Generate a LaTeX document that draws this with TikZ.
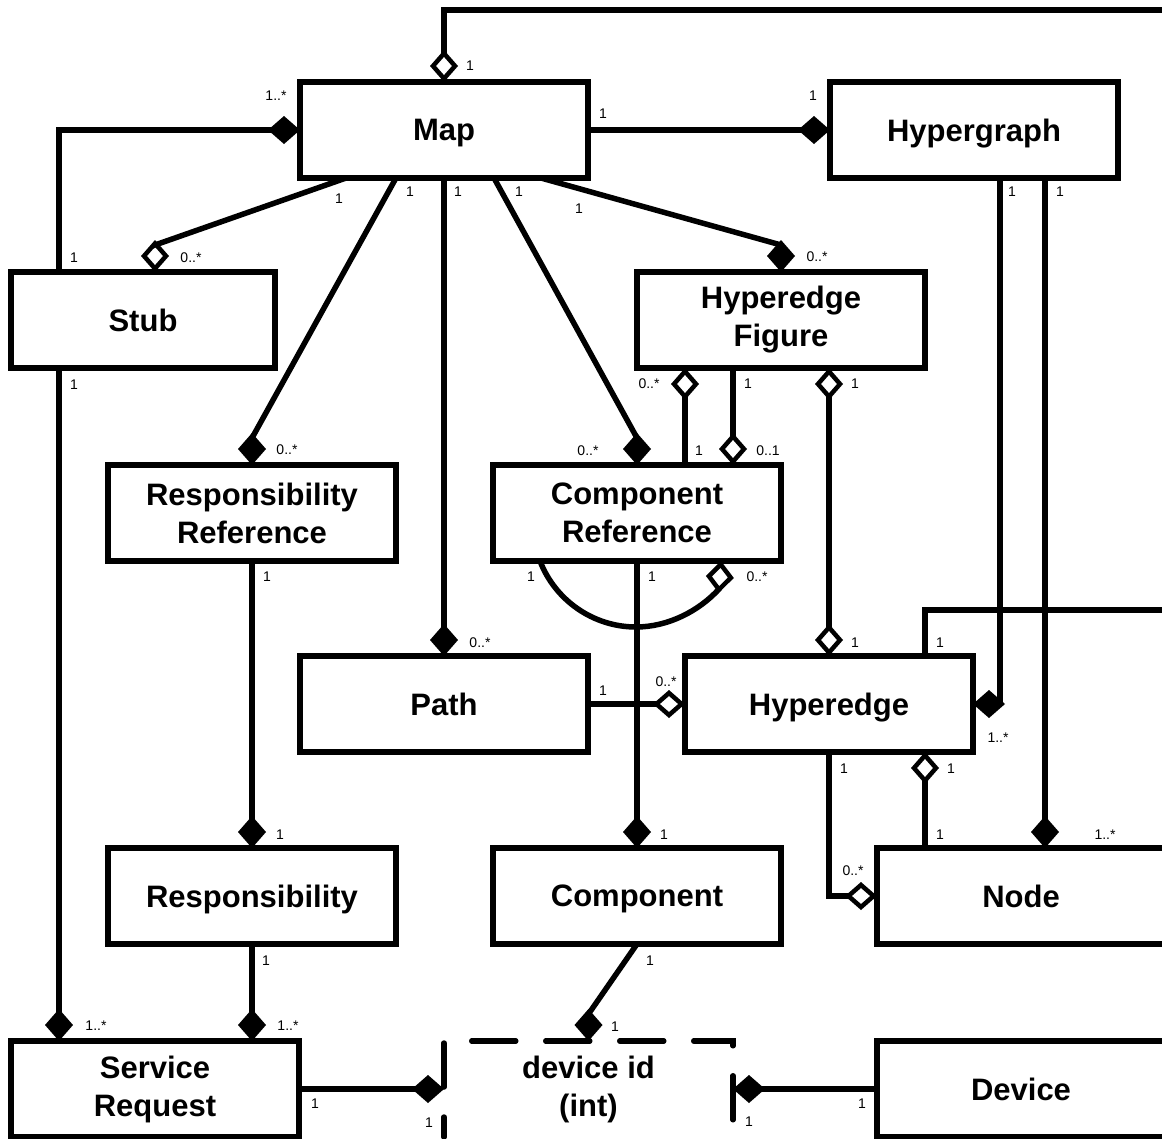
\documentclass[tikz,border=0pt]{standalone}
\usepackage{fontspec}
\setmainfont{Liberation Sans}
\usetikzlibrary{arrows.meta,calc}
\begin{document}
\begin{tikzpicture}[x=1pt,y=-1pt,
  line width=5.5pt,
  cls/.style={draw, line width=5.5pt, minimum width=288pt, minimum height=96pt,
    outer sep=0pt, inner sep=0pt, align=center,
    font=\bfseries\fontsize{31}{38}\selectfont},
  one/.style={cls, text depth=0pt},
  lab/.style={inner sep=0pt, font=\fontsize{14}{16}\selectfont},
  comp/.style={-{Diamond[length=32pt,width=28pt]}},
  aggr/.style={-{Diamond[open,length=32pt,width=28pt,line width=4.5pt]}},
  aggrboth/.style={{Diamond[open,length=32pt,width=28pt,line width=4.5pt]}-{Diamond[open,length=32pt,width=28pt,line width=4.5pt]}},
]
\useasboundingbox (0,0) rectangle (1162,1138);

% classes
\node (map)   [one] at (444,130) {Map};
\node (hg)    [one] at (974,130) {Hypergraph};
\node (stub)  [one, minimum width=264pt] at (143,320) {Stub};
\node (hf)    [cls] at (781,320) {Hyperedge\\Figure};
\node (rr)    [cls] at (252,513) {Responsibility\\Reference};
\node (cr)    [cls] at (637,513) {Component\\Reference};
\node (path)  [one] at (444,704) {Path};
\node (he)    [one] at (829,704) {Hyperedge};
\node (resp)  [one] at (252,896) {Responsibility};
\node (comp)  [one] at (637,896) {Component};
\node (node)  [one] at (1021,896) {Node};
\node (sr)    [cls] at (155,1089) {Service\\Request};
\node (dev)   [cls, draw=none, minimum width=289pt] at (588.5,1089) {device id\\(int)};
\node (device)[one] at (1021,1089) {Device};

% dashed outline of the device id type
\draw[line cap=round, dash pattern=on 44pt off 30pt, dash phase=46.25pt]
  (dev.north west) -- (dev.north east) -- (dev.south east);
\draw[line cap=round, dash pattern=on 44pt off 30pt, dash phase=72pt]
  (dev.north west) -- (dev.south west);

% free ends leaving the drawing on the right
\coordinate (topR) at (1175,10);
\coordinate (midR) at (1175,610);

% associations (diamonds stand upright on the box they touch)
\draw[aggr] (topR) -| (map.north);
\draw[comp] ($(stub.north west)+(48,0)$) |- (map.west);
\draw[comp] (map.east) -- (hg.west);
\draw[aggr] ($(map.south west)+(46,0)$) -- ($(stub.north west)+(144,-27)$) -- ($(stub.north west)+(144,0)$);
\draw[comp] ($(map.south west)+(96,0)$) -- ($(rr.north)+(0,-27)$) -- (rr.north);
\draw[comp] (map.south) -- (path.north);
\draw[comp] ($(map.south west)+(194,0)$) -- ($(cr.north)+(0,-27)$) -- (cr.north);
\draw[comp] ($(map.south west)+(241,0)$) -- ($(hf.north)+(0,-27)$) -- (hf.north);
\draw[comp] ($(hg.south west)+(170,0)$) |- (he.east);
\draw[comp] ($(hg.south west)+(215,0)$) -- ($(node.north west)+(168,0)$);
\draw[aggr] ($(cr.north west)+(192,0)$) -- ($(hf.south west)+(48,0)$);
\draw[aggr] ($(hf.south west)+(96,0)$) -- ($(cr.north west)+(240,0)$);
\draw[aggrboth] ($(hf.south west)+(192,0)$) -- (he.north);
\draw[aggr] ($(cr.south west)+(47,0)$)
  .. controls ($(cr.south west)+(62,39)$) and ($(cr.south west)+(100,66)$) .. ($(cr.south west)+(143,66)$)
  .. controls ($(cr.south west)+(175,66)$) and ($(cr.south west)+(206,50)$) .. ($(cr.south west)+(226,28)$)
  -- ($(cr.south west)+(228,0)$);
\draw[comp] (cr.south) -- (comp.north);
\draw[aggr] (path.east) -- (he.west);
\draw ($(he.north west)+(240,0)$) |- (midR);
\draw[aggr] (he.south) |- (node.west);
\draw[aggr] ($(node.north west)+(48,0)$) -- ($(he.south west)+(240,0)$);
\draw[comp] (rr.south) -- (resp.north);
\draw[comp] ($(stub.south west)+(48,0)$) -- ($(sr.north west)+(48,0)$);
\draw[comp] (resp.south) -- ($(sr.north west)+(241,0)$);
\draw[comp] (comp.south) -- ($(dev.north)+(0,-27)$) -- (dev.north);
\draw[comp] (sr.east) -- (dev.west);
\draw[comp] (device.west) -- (dev.east);

% multiplicities
\node (l01) [lab] at (470,66) {1};
\node (l02) [lab] at (276,96) {1..*};
\node (l03) [lab] at (603,114) {1};
\node (l04) [lab] at (813,96) {1};
\node (l05) [lab] at (339,199) {1};
\node (l06) [lab] at (410,192) {1};
\node (l07) [lab] at (458,192) {1};
\node (l08) [lab] at (519,192) {1};
\node (l09) [lab] at (579,209) {1};
\node (l10) [lab] at (74,258) {1};
\node (l11) [lab] at (191,258) {0..*};
\node (l12) [lab] at (817,257) {0..*};
\node (l13) [lab] at (1012,192) {1};
\node (l14) [lab] at (1060,192) {1};
\node (l15) [lab] at (649,384) {0..*};
\node (l16) [lab] at (748,384) {1};
\node (l17) [lab] at (855,384) {1};
\node (l18) [lab] at (74,385) {1};
\node (l19) [lab] at (287,450) {0..*};
\node (l20) [lab] at (588,451) {0..*};
\node (l21) [lab] at (699,451) {1};
\node (l22) [lab] at (768,451) {0..1};
\node (l23) [lab] at (267,577) {1};
\node (l24) [lab] at (531,577) {1};
\node (l25) [lab] at (652,577) {1};
\node (l26) [lab] at (757,577) {0..*};
\node (l27) [lab] at (480,643) {0..*};
\node (l28) [lab] at (855,643) {1};
\node (l29) [lab] at (940,643) {1};
\node (l30) [lab] at (666,682) {0..*};
\node (l31) [lab] at (603,691) {1};
\node (l32) [lab] at (998,738) {1..*};
\node (l33) [lab] at (844,769) {1};
\node (l34) [lab] at (951,769) {1};
\node (l35) [lab] at (280,835) {1};
\node (l36) [lab] at (664,835) {1};
\node (l37) [lab] at (940,835) {1};
\node (l38) [lab] at (1105,835) {1..*};
\node (l39) [lab] at (853,871) {0..*};
\node (l40) [lab] at (266,961) {1};
\node (l41) [lab] at (650,961) {1};
\node (l42) [lab] at (96,1026) {1..*};
\node (l43) [lab] at (288,1026) {1..*};
\node (l44) [lab] at (615,1027) {1};
\node (l45) [lab] at (315,1104) {1};
\node (l46) [lab] at (862,1104) {1};
\node (l47) [lab] at (429,1123) {1};
\node (l48) [lab] at (749,1122) {1};
\end{tikzpicture}
\end{document}
